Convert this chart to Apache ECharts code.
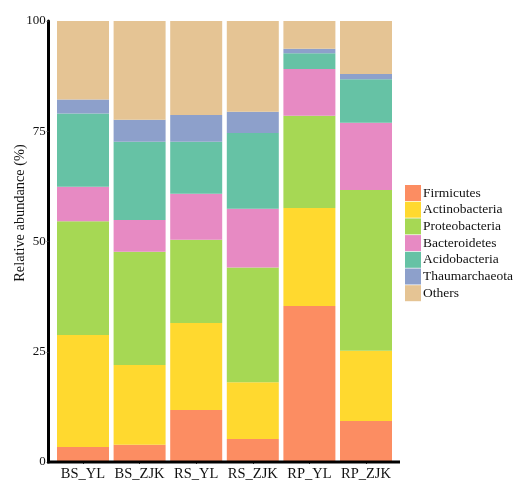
<!DOCTYPE html>
<html>
<head>
<meta charset="utf-8">
<script src="https://cdn.jsdelivr.net/npm/echarts@6/dist/echarts.min.js"></script>
<style>
  html, body { margin: 0; padding: 0; background: #fff; }
  #chart { width: 527px; height: 503px; }
</style>
</head>
<body>
<div id="chart"></div>
<script>
// sample groups
const samples = ['BS_YL', 'BS_ZJK', 'RS_YL', 'RS_ZJK', 'RP_YL', 'RP_ZJK'];

// relative abundance (%) per phylum, same order as samples
const firmicutes     = [3.4, 3.9, 11.8, 5.2, 35.4, 9.3];
const actinobacteria = [25.4, 18.1, 19.7, 12.9, 22.2, 15.9];
const proteobacteria = [25.8, 25.7, 18.9, 26.0, 20.9, 36.5];
const bacteroidetes  = [7.8, 7.2, 10.4, 13.3, 10.6, 15.2];
const acidobacteria  = [16.6, 17.7, 11.8, 17.2, 3.6, 9.9];
const thaumarchaeota = [3.2, 5.0, 6.1, 4.8, 1.0, 1.2];
const others         = [17.8, 22.4, 21.3, 20.6, 6.3, 12.0];

const yTicks = [0, 25, 50, 75, 100];

const phyla = [
  { name: 'Firmicutes', data: firmicutes, color: '#FC8D62' },
  { name: 'Actinobacteria', data: actinobacteria, color: '#FFD92F' },
  { name: 'Proteobacteria', data: proteobacteria, color: '#A6D854' },
  { name: 'Bacteroidetes', data: bacteroidetes, color: '#E78AC3' },
  { name: 'Acidobacteria', data: acidobacteria, color: '#66C2A5' },
  { name: 'Thaumarchaeota', data: thaumarchaeota, color: '#8DA0CB' },
  { name: 'Others', data: others, color: '#E5C494' }
];

const font = 'Liberation Serif';
const chart = echarts.init(document.getElementById('chart'));

const option = {
  animation: false,
  textStyle: { fontFamily: font },
  grid: {
    left: 54.7,
    right: 132.7,
    top: 21,
    bottom: 41,
    outerBoundsMode: 'none',
    containLabel: false
  },
  legend: {
    orient: 'vertical',
    left: 405,
    top: 185,
    padding: 0,
    icon: 'rect',
    itemWidth: 16,
    itemHeight: 16,
    itemGap: 0.7,
    textStyle: { fontFamily: font, fontSize: 13.5, color: '#111', padding: [0, 0, 0, -3] },
    data: phyla.map(p => p.name)
  },
  xAxis: {
    type: 'category',
    data: samples,
    axisLine: { show: false },
    axisTick: { show: true, alignWithLabel: true, length: 2, lineStyle: { color: '#333' } },
    axisLabel: { interval: 0, fontFamily: font, fontSize: 14.5, color: '#111', margin: 5 }
  },
  yAxis: {
    type: 'value',
    min: 0,
    max: 100,
    interval: 25,
    offset: 6,
    name: 'Relative abundance (%)',
    nameLocation: 'middle',
    nameGap: 21,
    nameMoveOverlap: false,
    nameTextStyle: { fontFamily: font, fontSize: 14.3, color: '#111', padding: [0, 0, 0, 57] },
    axisLine: { show: true, lineStyle: { color: '#000', width: 3 } },
    axisTick: { show: true, length: 2, lineStyle: { color: '#333' } },
    axisLabel: {
      fontFamily: font, fontSize: 13, color: '#111', margin: 3,
      formatter: v => (yTicks.includes(v) ? String(v) : '')
    },
    splitLine: { show: false }
  },
  graphic: [{
    type: 'line',
    shape: { x1: 47, y1: 462, x2: 400, y2: 462 },
    style: { stroke: '#000', lineWidth: 3 },
    z: 10
  }],
  series: phyla.map(p => ({
    name: p.name,
    type: 'bar',
    stack: 'total',
    barWidth: 52,
    data: p.data,
    itemStyle: { color: p.color },
    emphasis: { disabled: true }
  }))
};

chart.setOption(option);
window.addEventListener('resize', () => chart.resize());
</script>
</body>
</html>
